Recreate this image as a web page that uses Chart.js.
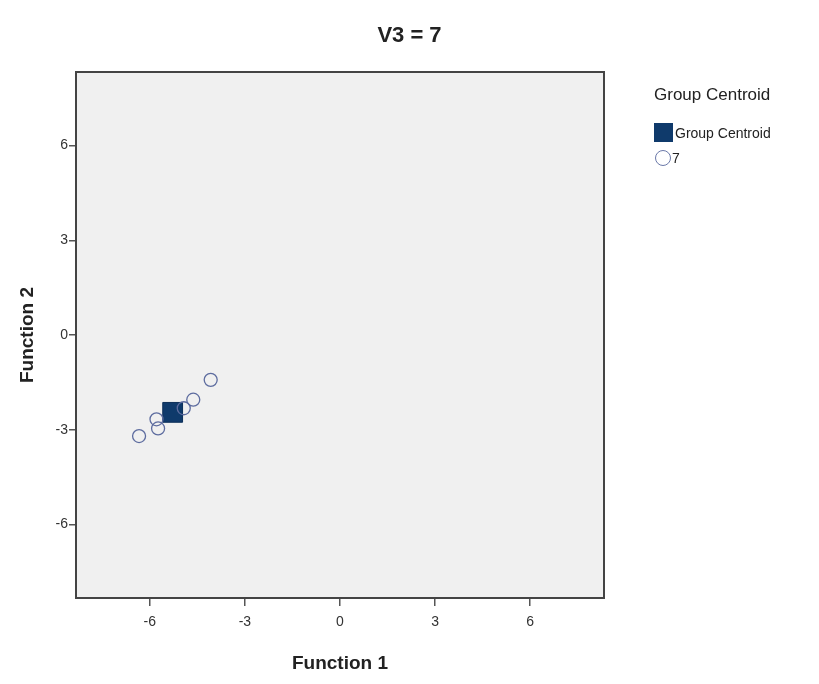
<!DOCTYPE html>
<html>
<head>
<meta charset="utf-8">
<script src="https://cdn.jsdelivr.net/npm/chart.js@4/dist/chart.umd.min.js"></script>
<style>
  body { margin: 0; background: #fff; }
  #wrap { position: relative; width: 819px; height: 684px; font-family: "Liberation Sans", Arial, sans-serif; }
  #title { position: absolute; left: 0; width: 819px; top: 22px; text-align: center; font-size: 22px; font-weight: bold; color: #222; line-height: 26px; }
  #legend { position: absolute; left: 654px; top: 85px; color: #222; }
  #legend .ttl { font-size: 17px; line-height: 20px; margin-bottom: 18px; }
  #legend .row { font-size: 14px; height: 20px; line-height: 20px; margin-bottom: 5px; white-space: nowrap; }
  #legend .sq { display: inline-block; width: 19px; height: 19px; background: #0f3a6b; vertical-align: -4px; margin-right: 2px; }
  #legend .ci { display: inline-block; width: 14px; height: 14px; border: 1.4px solid #6a78a8; border-radius: 50%; vertical-align: -3px; margin-right: 1px; margin-left: 1px; }
</style>
</head>
<body>
<div id="wrap">
  <canvas id="myChart" width="819" height="684"></canvas>
  <div id="title">V3 = 7</div>
  <div id="legend">
    <div class="ttl">Group Centroid</div>
    <div class="row"><span class="sq"></span>Group Centroid</div>
    <div class="row"><span class="ci"></span>7</div>
  </div>
</div>
<script>
// case scores (Function 1, Function 2) for V3 = 7
const caseF1 = [-4.08, -4.63, -4.93, -5.79, -5.74, -6.34];
const caseF2 = [-1.42, -2.05, -2.32, -2.67, -2.96, -3.20];
// group centroid
const centroidF1 = [-5.28];
const centroidF2 = [-2.45];
const tickVals = [-6, -3, 0, 3, 6];

const toPts = (xs, ys) => xs.map((x, i) => ({ x: x, y: ys[i] }));

const framePlugin = {
    id: 'frame',
    beforeDatasetsDraw(chart) {
        const a = chart.chartArea, ctx = chart.ctx;
        ctx.save();
        ctx.fillStyle = '#f0f0f0';
        ctx.fillRect(a.left, a.top, a.right - a.left, a.bottom - a.top);
        ctx.restore();
    },
    afterDraw(chart) {
        const a = chart.chartArea, ctx = chart.ctx;
        ctx.save();
        ctx.strokeStyle = '#444';
        ctx.lineWidth = 2;
        ctx.strokeRect(a.left, a.top, a.right - a.left, a.bottom - a.top);
        ctx.restore();
    }
};

const setTicks = scale => { scale.ticks = tickVals.map(v => ({ value: v })); };

new Chart(document.getElementById("myChart"), {
    type: 'scatter',
    data: {
        datasets: [
            {
                label: "7",
                data: toPts(caseF1, caseF2),
                pointStyle: 'circle',
                pointRadius: 6.5,
                pointBorderWidth: 1.3,
                borderColor: '#5d6c9f',
                backgroundColor: 'rgba(0,0,0,0)',
                order: 0
            },
            {
                label: "Group Centroid",
                data: toPts(centroidF1, centroidF2),
                pointStyle: 'rect',
                pointRadius: 14,
                pointBorderWidth: 1,
                borderColor: '#0c2f58',
                backgroundColor: '#0f3a6b',
                order: 1
            }
        ]
    },
    options: {
        responsive: false,
        maintainAspectRatio: false,
        animation: false,
        layout: { padding: { left: 14, right: 215, top: 72, bottom: 0 } },
        plugins: {
            legend: { display: false },
            tooltip: { enabled: false }
        },
        scales: {
            x: {
                type: 'linear',
                min: -8.33, max: 8.33,
                afterBuildTicks: setTicks,
                afterFit: s => { s.height = 86; },
                border: { display: false },
                grid: { drawOnChartArea: false, drawTicks: true, tickLength: 8, color: '#555', lineWidth: 1.5 },
                ticks: { color: '#333', padding: 8, font: { family: 'Liberation Sans', size: 14 }, maxRotation: 0 },
                title: { display: true, text: 'Function 1', color: '#222', font: { family: 'Liberation Sans', size: 19, weight: 'bold' }, padding: { top: 4, bottom: 9 } }
            },
            y: {
                type: 'linear',
                min: -8.33, max: 8.33,
                afterBuildTicks: setTicks,
                afterFit: s => { s.width = 62; },
                border: { display: false },
                grid: { drawOnChartArea: false, drawTicks: true, tickLength: 7, color: '#555', lineWidth: 1.5 },
                ticks: { color: '#333', padding: 1, font: { family: 'Liberation Sans', size: 14 } },
                title: { display: true, text: 'Function 2', color: '#222', font: { family: 'Liberation Sans', size: 19, weight: 'bold' }, padding: { top: 2, bottom: 8 } }
            }
        }
    },
    plugins: [framePlugin]
});
</script>
</body>
</html>
